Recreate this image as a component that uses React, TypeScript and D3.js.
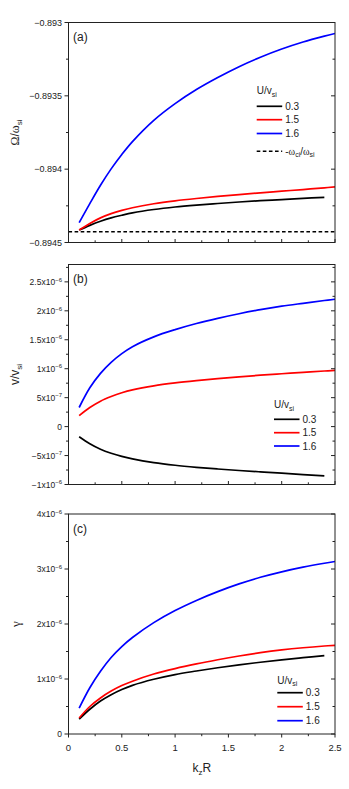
import React from 'react';
import * as d3 from 'd3';

// k_z R sample points
const kz = [0.1, 0.2, 0.3, 0.4, 0.5, 0.6, 0.8, 1.0, 1.2, 1.4, 1.6, 1.8, 2.0, 2.2, 2.4, 2.5];
const kzShort = kz.slice(0, 15); // U/v_si = 0.3 stops at 2.4

const legendLabels = ['0.3', '1.5', '1.6'];
const seriesColors = ['#000000', '#ff0000', '#0000ff'];

// (a) real frequency Omega/omega_si
const omega03 = [-0.894415, -0.894383, -0.894355, -0.894332, -0.894314, -0.894298, -0.894275, -0.894258, -0.894245, -0.894234, -0.894224, -0.894215, -0.894207, -0.894199, -0.894192];
const omega15 = [-0.894415, -0.89437, -0.894332, -0.894303, -0.894281, -0.894263, -0.894236, -0.894216, -0.8942, -0.894186, -0.894173, -0.894161, -0.89415, -0.894139, -0.894127, -0.894121];
const omega16 = [-0.894365, -0.894235, -0.89411, -0.893998, -0.8939, -0.893812, -0.893667, -0.893553, -0.893457, -0.893375, -0.893301, -0.893237, -0.893181, -0.893133, -0.893093, -0.893075];
const omegaCi = -0.894427;

// (b) v/v_si
const v03 = [-1.75e-7, -2.95e-7, -3.9e-7, -4.6e-7, -5.15e-7, -5.58e-7, -6.22e-7, -6.68e-7, -7.03e-7, -7.32e-7, -7.58e-7, -7.82e-7, -8.05e-7, -8.28e-7, -8.5e-7];
const v15 = [1.9e-7, 3.3e-7, 4.4e-7, 5.2e-7, 5.85e-7, 6.35e-7, 7.05e-7, 7.55e-7, 7.95e-7, 8.3e-7, 8.6e-7, 8.88e-7, 9.13e-7, 9.37e-7, 9.6e-7, 9.72e-7];
const v16 = [3.3e-7, 6.7e-7, 9.2e-7, 1.11e-6, 1.26e-6, 1.38e-6, 1.55e-6, 1.675e-6, 1.78e-6, 1.87e-6, 1.95e-6, 2.02e-6, 2.08e-6, 2.13e-6, 2.178e-6, 2.2e-6];

// (c) growth rate gamma
const g03 = [2.7e-7, 4.5e-7, 6.0e-7, 7.15e-7, 8.1e-7, 8.85e-7, 9.95e-7, 1.08e-6, 1.145e-6, 1.205e-6, 1.258e-6, 1.305e-6, 1.348e-6, 1.387e-6, 1.425e-6];
const g15 = [2.9e-7, 5.0e-7, 6.55e-7, 7.8e-7, 8.8e-7, 9.6e-7, 1.09e-6, 1.19e-6, 1.275e-6, 1.35e-6, 1.418e-6, 1.478e-6, 1.528e-6, 1.568e-6, 1.6e-6, 1.613e-6];
const g16 = [4.7e-7, 8.4e-7, 1.14e-6, 1.39e-6, 1.59e-6, 1.755e-6, 2.025e-6, 2.245e-6, 2.429e-6, 2.589e-6, 2.729e-6, 2.849e-6, 2.949e-6, 3.033e-6, 3.105e-6, 3.137e-6];

// ticks
const xTicks = [0, 0.5, 1, 1.5, 2, 2.5];
const aTicks = [-0.8945, -0.894, -0.8935, -0.893];
const bTicks = [-1e-6, -5e-7, 0, 5e-7, 1e-6, 1.5e-6, 2e-6, 2.5e-6];
const cTicks = [0, 1e-6, 2e-6, 3e-6, 4e-6];

const FONT = "'Liberation Sans', Arial, sans-serif";
const SERIF = "'Liberation Serif', 'Times New Roman', serif";
const INK = '#222';

const left = 68.5, right = 335, panelH = 220;
const x = d3.scaleLinear().domain([0, 2.5]).range([left, right]);

const minorOf = (t: number[]) => t.slice(0, -1).map((v, i) => (v + t[i + 1]) / 2);

function sciParts(v: number) {
  if (v === 0) return null;
  const e = Math.floor(Math.log10(Math.abs(v)) + 1e-9);
  const m = +(v / Math.pow(10, e)).toFixed(2);
  return { m: String(m).replace('-', '\u2212'), e: String(e).replace('-', '\u2212') };
}

function Legend({ x0, y0, rows, dashed }: any) {
  return (
    <g fontFamily={FONT} fill={INK}>
      <text x={x0} y={y0} fontSize={10}>
        U/v<tspan fontSize={7} dy={2.5}>si</tspan>
      </text>
      {legendLabels.map((l, i) => (
        <g key={l}>
          <line x1={x0} x2={x0 + 25.5} y1={rows[i]} y2={rows[i]} stroke={seriesColors[i]} strokeWidth={1.7} />
          <text x={x0 + 28.5} y={rows[i] + 3.6} fontSize={10}>{l}</text>
        </g>
      ))}
      {dashed && (
        <g>
          <line x1={x0} x2={x0 + 25.5} y1={dashed} y2={dashed} stroke="#000" strokeWidth={1.5} strokeDasharray="3.6,2.5" />
          <text x={x0 + 28.5} y={dashed + 3.6} fontSize={10}>
            -<tspan fontFamily={SERIF}>ω</tspan><tspan fontSize={7} dy={2.5}>ci</tspan>
            <tspan dy={-2.5}>/</tspan><tspan fontFamily={SERIF}>ω</tspan><tspan fontSize={7} dy={2.5}>si</tspan>
          </text>
        </g>
      )}
    </g>
  );
}

function Panel({ top, domain, ticks, series, label, kind, showX, children, title }: any) {
  const bottom = top + panelH;
  const y = d3.scaleLinear().domain(domain).range([bottom, top]);
  const line = (xs: number[]) => d3.line<number>().x((_, i) => x(xs[i])).y(d => y(d)).curve(d3.curveCatmullRom.alpha(0.5));
  const xMinor = minorOf(xTicks);
  const yMinor = minorOf(ticks).concat(kind === 'b' ? [2.75e-6] : []);
  const out = showX ? 1 : -1;
  return (
    <g>
      <defs>
        <clipPath id={'clip' + kind}><rect x={left} y={top} width={right - left} height={panelH} /></clipPath>
      </defs>
      <g clipPath={`url(#clip${kind})`}>
        {children && children(y)}
        {series.map((s: any, i: number) => (
          <path key={i} d={line(s.xs)(s.ys) || ''} fill="none" stroke={seriesColors[i]} strokeWidth={1.7} />
        ))}
      </g>
      <rect x={left} y={top} width={right - left} height={panelH} fill="none" stroke={INK} strokeWidth={1} />
      {/* left axis ticks (outward) and right axis ticks (inward) */}
      {ticks.map((t: number) => (
        <g key={'M' + t} stroke={INK}>
          <line x1={left - 4} x2={left} y1={y(t)} y2={y(t)} />
          <line x1={right - 4} x2={right} y1={y(t)} y2={y(t)} />
        </g>
      ))}
      {yMinor.map((t: number) => (
        <g key={'m' + t} stroke={INK}>
          <line x1={left - 2.5} x2={left} y1={y(t)} y2={y(t)} />
          <line x1={right - 2.5} x2={right} y1={y(t)} y2={y(t)} />
        </g>
      ))}
      {xTicks.map(t => (
        <line key={'xM' + t} x1={x(t)} x2={x(t)} y1={bottom} y2={bottom + out * 3.5} stroke={INK} />
      ))}
      {xMinor.map(t => (
        <line key={'xm' + t} x1={x(t)} x2={x(t)} y1={bottom} y2={bottom + out * 2.2} stroke={INK} />
      ))}
      <g fontFamily={FONT} fill={INK}>
        {ticks.map((t: number) => {
          const ty = y(t) + 3.2;
          if (kind === 'a') {
            return <text key={t} x={left - 6.5} y={ty} fontSize={9} textAnchor="end">{String(t).replace('-', '\u2212')}</text>;
          }
          const p = sciParts(t);
          return (
            <text key={t} x={left - 6.5} y={ty} fontSize={8.5} textAnchor="end">
              {p ? <>{p.m}x10<tspan fontSize={6} dy={-3.5}>{p.e}</tspan></> : '0'}
            </text>
          );
        })}
        {showX && xTicks.map(t => (
          <text key={'xl' + t} x={x(t)} y={bottom + 16.5} fontSize={9.5} textAnchor="middle">{t}</text>
        ))}
        <text x={left + 4.5} y={top + 18.5} fontSize={12}>{label}</text>
        {title}
      </g>
    </g>
  );
}

export default function App() {
  const [ta, tb, tc] = [22.5, 264.5, 514];
  return (
    <div style={{ position: 'absolute', left: 0, top: 0 }}>
      <svg width={349} height={789} style={{ display: 'block', background: '#fff' }}>
        <Panel
          top={ta} kind="a" label="(a)" domain={[-0.8945, -0.893]} ticks={aTicks}
          series={[{ xs: kzShort, ys: omega03 }, { xs: kz, ys: omega15 }, { xs: kz, ys: omega16 }]}
          title={
            <text transform={`translate(19,${ta + panelH / 2}) rotate(-90)`} textAnchor="middle" fontSize={12}>
              <tspan fontFamily={SERIF}>Ω</tspan>/<tspan fontFamily={SERIF}>ω</tspan><tspan fontSize={8} dy={3}>si</tspan>
            </text>
          }
        >
          {(y: any) => (
            <line x1={left} x2={right} y1={y(omegaCi)} y2={y(omegaCi)} stroke="#000" strokeWidth={1.5} strokeDasharray="3.6,2.5" />
          )}
        </Panel>
        <Panel
          top={tb} kind="b" label="(b)" domain={[-1e-6, 2.8e-6]} ticks={bTicks}
          series={[{ xs: kzShort, ys: v03 }, { xs: kz, ys: v15 }, { xs: kz, ys: v16 }]}
          title={
            <text transform={`translate(19,${tb + panelH / 2}) rotate(-90)`} textAnchor="middle" fontSize={12}>
              v/v<tspan fontSize={8} dy={3}>si</tspan>
            </text>
          }
        />
        <Panel
          top={tc} kind="c" label="(c)" domain={[0, 4e-6]} ticks={cTicks} showX
          series={[{ xs: kzShort, ys: g03 }, { xs: kz, ys: g15 }, { xs: kz, ys: g16 }]}
          title={
            <>
              <text transform={`translate(20,${tc + panelH / 2}) rotate(-90)`} textAnchor="middle" fontSize={13} fontFamily={SERIF}>γ</text>
              <text x={(left + right) / 2} y={772} textAnchor="middle" fontSize={12}>
                k<tspan fontSize={8} dy={3}>z</tspan><tspan dy={-3}>R</tspan>
              </text>
            </>
          }
        />
        <Legend x0={256.7} y0={94} rows={[106.3, 119.7, 133.5]} dashed={151.3} />
        <Legend x0={274} y0={408} rows={[419.3, 432.7, 446]} />
        <Legend x0={277.3} y0={683.5} rows={[692.7, 706.7, 720.7]} />
      </svg>
    </div>
  );
}
